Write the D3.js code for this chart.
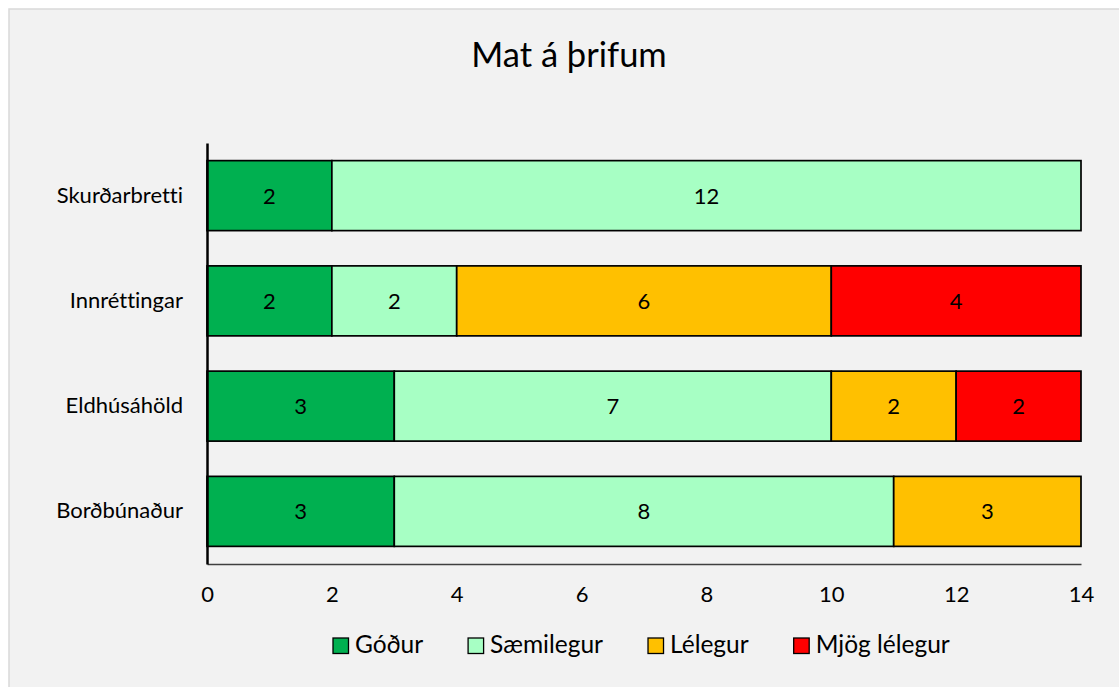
<!DOCTYPE html>
<html>
<head>
<meta charset="utf-8">
<script src="https://cdn.jsdelivr.net/npm/d3@7"></script>
<style>
  body { margin: 0; background: #fff; }
  text { font-family: Lato, "Open Sans", sans-serif; fill: #000; font-variant-ligatures: none; font-feature-settings: "liga" 0, "clig" 0; }
</style>
</head>
<body>
<div id="chart"></div>
<script>
// data
var categories = ["Skurðarbretti", "Innréttingar", "Eldhúsáhöld", "Borðbúnaður"];
var seriesNames = ["Góður", "Sæmilegur", "Lélegur", "Mjög lélegur"];
var seriesColors = ["#00b050", "#a7ffc4", "#ffc000", "#ff0000"];
var godur = [2, 2, 3, 3];
var saemilegur = [12, 2, 7, 8];
var lelegur = [0, 6, 2, 3];
var mjogLelegur = [0, 4, 2, 0];
var xTicks = [0, 2, 4, 6, 8, 10, 12, 14];

var width = 1119, height = 687;
var margin = {left: 207, right: 1119 - 1081, top: 143, bottom: 687 - 564};
var labelSize = "22px";

var svg = d3.select("#chart").append("svg")
  .attr("width", width)
  .attr("height", height);

// chart area background
svg.append("rect")
  .attr("x", 9).attr("y", 9)
  .attr("width", 1140).attr("height", 700)
  .attr("fill", "#f2f2f2")
  .attr("stroke", "#d9d9d9")
  .attr("stroke-width", 1.5);

var rows = categories.map(function(c, i) {
  return {cat: c, values: [godur[i], saemilegur[i], lelegur[i], mjogLelegur[i]]};
});

var x = d3.scaleLinear()
  .domain([0, 14])
  .range([margin.left, width - margin.right]);

var y = d3.scaleBand()
  .domain(categories)
  .range([margin.top, height - margin.bottom])
  .paddingInner(0.335)
  .paddingOuter(0.1675);

// title
svg.append("text")
  .attr("x", 569).attr("y", 67)
  .attr("text-anchor", "middle")
  .style("font-size", "34.5px")
  .text("Mat á þrifum");

// bars
var g = svg.append("g");
rows.forEach(function(r) {
  var start = 0;
  r.values.forEach(function(v, j) {
    if (v > 0) {
      g.append("rect")
        .attr("x", x(start))
        .attr("y", y(r.cat))
        .attr("width", x(start + v) - x(start))
        .attr("height", y.bandwidth())
        .attr("fill", seriesColors[j])
        .attr("stroke", "#000")
        .attr("stroke-width", 1.7);
      g.append("text")
        .attr("x", (x(start) + x(start + v)) / 2)
        .attr("y", y(r.cat) + y.bandwidth() / 2)
        .attr("dy", "0.36em")
        .attr("text-anchor", "middle")
        .style("font-size", labelSize)
        .text(v);
    }
    start += v;
  });
});

// x axis (baseline + labels)
var xAxis = svg.append("g")
  .attr("transform", "translate(0," + (height - margin.bottom) + ")")
  .call(d3.axisBottom(x).tickValues(xTicks).tickSize(0).tickPadding(22));
xAxis.select(".domain").attr("stroke", "#404040").attr("stroke-width", 1.5);
xAxis.selectAll("text").style("font-size", labelSize).style("font-family", "Lato, sans-serif").attr("fill", "#000");

// y axis
var yAxis = svg.append("g")
  .attr("transform", "translate(" + margin.left + ",0)")
  .call(d3.axisLeft(y).tickSize(0).tickPadding(24));
yAxis.select(".domain").attr("stroke", "#000").attr("stroke-width", 2.5);
yAxis.selectAll("text").style("font-size", labelSize).style("font-family", "Lato, sans-serif").attr("fill", "#000");

// legend
var legend = svg.append("g");
var lx = 333;
seriesNames.forEach(function(n, i) {
  legend.append("rect")
    .attr("x", lx).attr("y", 638)
    .attr("width", 15.5).attr("height", 15.5)
    .attr("fill", seriesColors[i])
    .attr("stroke", "#000").attr("stroke-width", 1.3);
  var t = legend.append("text")
    .attr("x", lx + 22).attr("y", 653)
    .style("font-size", "24.5px")
    .text(n);
  lx += 22 + t.node().getComputedTextLength() + 45;
});
</script>
</body>
</html>
